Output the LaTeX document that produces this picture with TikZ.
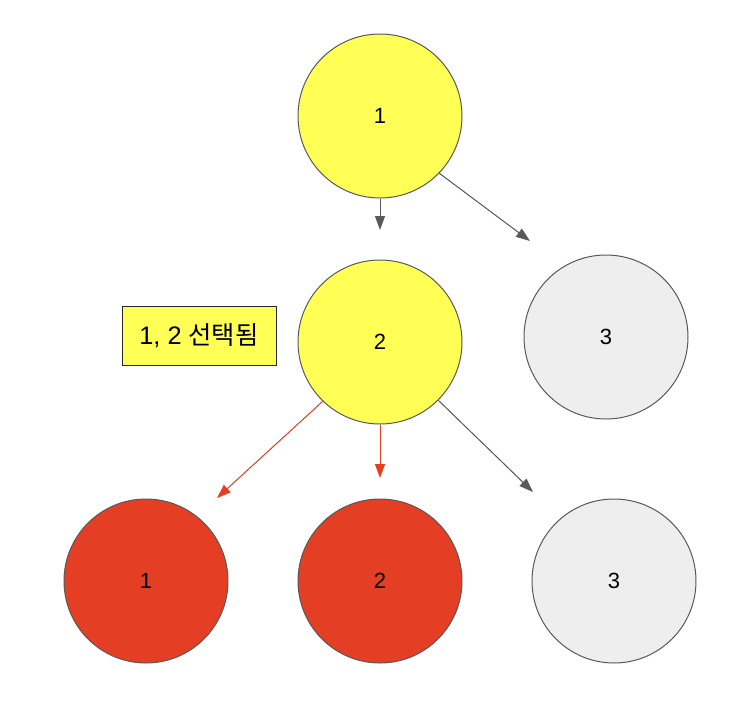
\documentclass[tikz,border=0pt]{standalone}
\usepackage{fontspec}
\setmainfont{Liberation Sans}
\newfontfamily\krfont{Noto Sans CJK KR}
\usetikzlibrary{arrows.meta}
\definecolor{ylw}{HTML}{FFFF55}
\definecolor{rd}{HTML}{E43E24}
\definecolor{gr}{HTML}{EEEEEE}
\definecolor{edge}{HTML}{595959}
\tikzset{
  circ/.style={circle, draw=edge, line width=0.75pt, minimum size=123pt, inner sep=0pt, font=\fontsize{16.5}{18}\selectfont},
  yc/.style={circ, fill=ylw},
  rc/.style={circ, fill=rd},
  gc/.style={circ, fill=gr},
  arr/.style={draw=edge, line width=0.75pt, -{Triangle[length=10.5pt,width=7.5pt]}},
  rarr/.style={arr, draw=rd, fill=rd},
  lbl/.style={draw=black!85, fill=ylw, line width=0.75pt, minimum width=115.5pt, minimum height=44.25pt, inner sep=0pt, font=\fontsize{19}{21}\selectfont}
}
\begin{document}
\begin{tikzpicture}[x=0.75pt,y=-0.75pt]
\useasboundingbox (0,0) rectangle (744,719);
\node[yc] (a) at (380,116) {1};
\node[yc] (b) at (380,342) {2};
\node[gc] (c) at (606,337) {3};
\node[rc] (d) at (146,581) {1};
\node[rc] (e) at (380,581) {2};
\node[gc] (f) at (614,581) {3};
\node[lbl] (l) at (199,335.5) {1, 2 {\krfont 선택됨}};
\coordinate (t1) at (380,230);
\coordinate (t2) at (530,241);
\coordinate (t3) at (217,498);
\coordinate (t4) at (380,478);
\coordinate (t5) at (533,492);
\draw[arr, fill=edge] (a.south) -- (t1);
\draw[arr, fill=edge] (a.-44) -- (t2);
\draw[rarr] (b.-134.5) -- (t3);
\draw[rarr] (b.south) -- (t4);
\draw[arr, fill=edge] (b.-45) -- (t5);
\end{tikzpicture}
\end{document}
